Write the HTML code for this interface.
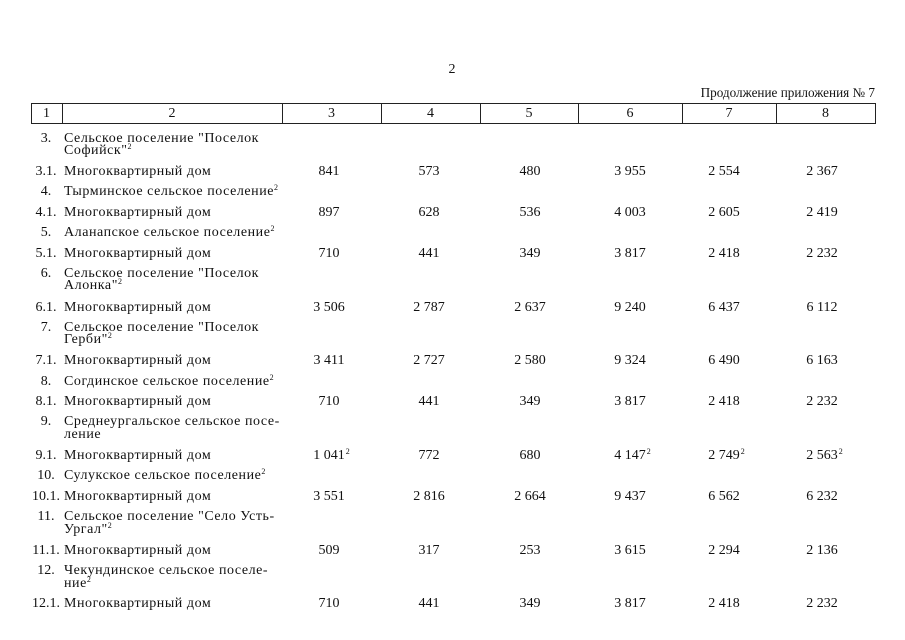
<!DOCTYPE html>
<html><head><meta charset="utf-8">
<style>
html,body{margin:0;padding:0;background:#fff;}
body{width:905px;height:640px;position:relative;overflow:hidden;font-family:"Liberation Serif","Noto Serif CJK SC",serif;font-size:14px;color:#111;}
.t{position:absolute;white-space:nowrap;line-height:16px;height:16px;}
.w{letter-spacing:0.55px;}
.c{text-align:center;}
.l{position:absolute;white-space:nowrap;line-height:16px;width:40px;text-align:center;}
.n{position:absolute;white-space:nowrap;line-height:16px;width:90px;text-align:center;}
.n span{position:relative;}
sup{font-size:8px;line-height:0;vertical-align:0;position:relative;top:-5px;letter-spacing:0;}
.n sup{position:absolute;top:0px;left:100%;line-height:8px;margin-left:1px;}
.hl{position:absolute;background:#222;}
</style></head><body>

<div class="t" style="left:440px;top:62px;width:24px;text-align:center;">2</div>
<div class="t" style="left:575px;top:85px;width:300px;text-align:right;font-size:13.2px;">Продолжение приложения № 7</div>

<!-- header box -->
<div class="hl" style="left:31px;top:103px;width:845px;height:1px;"></div>
<div class="hl" style="left:31px;top:123px;width:845px;height:1px;"></div>
<div class="hl" style="left:31px;top:103px;width:1px;height:21px;"></div>
<div class="hl" style="left:62px;top:103px;width:1px;height:21px;"></div>
<div class="hl" style="left:282px;top:103px;width:1px;height:21px;"></div>
<div class="hl" style="left:381px;top:103px;width:1px;height:21px;"></div>
<div class="hl" style="left:480px;top:103px;width:1px;height:21px;"></div>
<div class="hl" style="left:578px;top:103px;width:1px;height:21px;"></div>
<div class="hl" style="left:682px;top:103px;width:1px;height:21px;"></div>
<div class="hl" style="left:776px;top:103px;width:1px;height:21px;"></div>
<div class="hl" style="left:875px;top:103px;width:1px;height:21px;"></div>

<div class="t c" style="left:31px;top:106px;width:31px;">1</div>
<div class="t c" style="left:62px;top:106px;width:220px;">2</div>
<div class="t c" style="left:282px;top:106px;width:99px;">3</div>
<div class="t c" style="left:381px;top:106px;width:99px;">4</div>
<div class="t c" style="left:480px;top:106px;width:98px;">5</div>
<div class="t c" style="left:578px;top:106px;width:104px;">6</div>
<div class="t c" style="left:682px;top:106px;width:94px;">7</div>
<div class="t c" style="left:776px;top:106px;width:99px;">8</div>

<!-- labels -->
<div class="l" style="left:26px;top:131px;">3.</div>
<div class="t w" style="left:64px;top:131px;">Сельское поселение "Поселок</div>
<div class="t w" style="left:64px;top:143px;">Софийск"<sup>2</sup></div>

<div class="l" style="left:26px;top:164px;">3.1.</div>
<div class="t w" style="left:64px;top:164px;">Многоквартирный дом</div>

<div class="l" style="left:26px;top:184px;">4.</div>
<div class="t w" style="left:64px;top:184px;">Тырминское сельское поселение<sup>2</sup></div>

<div class="l" style="left:26px;top:205px;">4.1.</div>
<div class="t w" style="left:64px;top:205px;">Многоквартирный дом</div>

<div class="l" style="left:26px;top:225px;">5.</div>
<div class="t w" style="left:64px;top:225px;">Аланапское сельское поселение<sup>2</sup></div>

<div class="l" style="left:26px;top:246px;">5.1.</div>
<div class="t w" style="left:64px;top:246px;">Многоквартирный дом</div>

<div class="l" style="left:26px;top:266px;">6.</div>
<div class="t w" style="left:64px;top:266px;">Сельское поселение "Поселок</div>
<div class="t w" style="left:64px;top:278px;">Алонка"<sup>2</sup></div>

<div class="l" style="left:26px;top:300px;">6.1.</div>
<div class="t w" style="left:64px;top:300px;">Многоквартирный дом</div>

<div class="l" style="left:26px;top:320px;">7.</div>
<div class="t w" style="left:64px;top:320px;">Сельское поселение "Поселок</div>
<div class="t w" style="left:64px;top:332px;">Герби"<sup>2</sup></div>

<div class="l" style="left:26px;top:353px;">7.1.</div>
<div class="t w" style="left:64px;top:353px;">Многоквартирный дом</div>

<div class="l" style="left:26px;top:374px;">8.</div>
<div class="t w" style="left:64px;top:374px;">Согдинское сельское поселение<sup>2</sup></div>

<div class="l" style="left:26px;top:394px;">8.1.</div>
<div class="t w" style="left:64px;top:394px;">Многоквартирный дом</div>

<div class="l" style="left:26px;top:414px;">9.</div>
<div class="t w" style="left:64px;top:414px;">Среднеургальское сельское посе-</div>
<div class="t w" style="left:64px;top:427px;">ление</div>

<div class="l" style="left:26px;top:448px;">9.1.</div>
<div class="t w" style="left:64px;top:448px;">Многоквартирный дом</div>

<div class="l" style="left:26px;top:468px;">10.</div>
<div class="t w" style="left:64px;top:468px;">Сулукское сельское поселение<sup>2</sup></div>

<div class="l" style="left:26px;top:489px;">10.1.</div>
<div class="t w" style="left:64px;top:489px;">Многоквартирный дом</div>

<div class="l" style="left:26px;top:509px;">11.</div>
<div class="t w" style="left:64px;top:509px;">Сельское поселение "Село Усть-</div>
<div class="t w" style="left:64px;top:522px;">Ургал"<sup>2</sup></div>

<div class="l" style="left:26px;top:543px;">11.1.</div>
<div class="t w" style="left:64px;top:543px;">Многоквартирный дом</div>

<div class="l" style="left:26px;top:563px;">12.</div>
<div class="t w" style="left:64px;top:563px;">Чекундинское сельское поселе-</div>
<div class="t w" style="left:64px;top:576px;">ние<sup>2</sup></div>

<div class="l" style="left:26px;top:596px;">12.1.</div>
<div class="t w" style="left:64px;top:596px;">Многоквартирный дом</div>

<!-- numbers -->
<div class="n" style="left:284px;top:164px;"><span>841</span></div>
<div class="n" style="left:384px;top:164px;"><span>573</span></div>
<div class="n" style="left:485px;top:164px;"><span>480</span></div>
<div class="n" style="left:585px;top:164px;"><span>3 955</span></div>
<div class="n" style="left:679px;top:164px;"><span>2 554</span></div>
<div class="n" style="left:777px;top:164px;"><span>2 367</span></div>

<div class="n" style="left:284px;top:205px;"><span>897</span></div>
<div class="n" style="left:384px;top:205px;"><span>628</span></div>
<div class="n" style="left:485px;top:205px;"><span>536</span></div>
<div class="n" style="left:585px;top:205px;"><span>4 003</span></div>
<div class="n" style="left:679px;top:205px;"><span>2 605</span></div>
<div class="n" style="left:777px;top:205px;"><span>2 419</span></div>

<div class="n" style="left:284px;top:246px;"><span>710</span></div>
<div class="n" style="left:384px;top:246px;"><span>441</span></div>
<div class="n" style="left:485px;top:246px;"><span>349</span></div>
<div class="n" style="left:585px;top:246px;"><span>3 817</span></div>
<div class="n" style="left:679px;top:246px;"><span>2 418</span></div>
<div class="n" style="left:777px;top:246px;"><span>2 232</span></div>

<div class="n" style="left:284px;top:300px;"><span>3 506</span></div>
<div class="n" style="left:384px;top:300px;"><span>2 787</span></div>
<div class="n" style="left:485px;top:300px;"><span>2 637</span></div>
<div class="n" style="left:585px;top:300px;"><span>9 240</span></div>
<div class="n" style="left:679px;top:300px;"><span>6 437</span></div>
<div class="n" style="left:777px;top:300px;"><span>6 112</span></div>

<div class="n" style="left:284px;top:353px;"><span>3 411</span></div>
<div class="n" style="left:384px;top:353px;"><span>2 727</span></div>
<div class="n" style="left:485px;top:353px;"><span>2 580</span></div>
<div class="n" style="left:585px;top:353px;"><span>9 324</span></div>
<div class="n" style="left:679px;top:353px;"><span>6 490</span></div>
<div class="n" style="left:777px;top:353px;"><span>6 163</span></div>

<div class="n" style="left:284px;top:394px;"><span>710</span></div>
<div class="n" style="left:384px;top:394px;"><span>441</span></div>
<div class="n" style="left:485px;top:394px;"><span>349</span></div>
<div class="n" style="left:585px;top:394px;"><span>3 817</span></div>
<div class="n" style="left:679px;top:394px;"><span>2 418</span></div>
<div class="n" style="left:777px;top:394px;"><span>2 232</span></div>

<div class="n" style="left:284px;top:448px;"><span>1 041<sup>2</sup></span></div>
<div class="n" style="left:384px;top:448px;"><span>772</span></div>
<div class="n" style="left:485px;top:448px;"><span>680</span></div>
<div class="n" style="left:585px;top:448px;"><span>4 147<sup>2</sup></span></div>
<div class="n" style="left:679px;top:448px;"><span>2 749<sup>2</sup></span></div>
<div class="n" style="left:777px;top:448px;"><span>2 563<sup>2</sup></span></div>

<div class="n" style="left:284px;top:489px;"><span>3 551</span></div>
<div class="n" style="left:384px;top:489px;"><span>2 816</span></div>
<div class="n" style="left:485px;top:489px;"><span>2 664</span></div>
<div class="n" style="left:585px;top:489px;"><span>9 437</span></div>
<div class="n" style="left:679px;top:489px;"><span>6 562</span></div>
<div class="n" style="left:777px;top:489px;"><span>6 232</span></div>

<div class="n" style="left:284px;top:543px;"><span>509</span></div>
<div class="n" style="left:384px;top:543px;"><span>317</span></div>
<div class="n" style="left:485px;top:543px;"><span>253</span></div>
<div class="n" style="left:585px;top:543px;"><span>3 615</span></div>
<div class="n" style="left:679px;top:543px;"><span>2 294</span></div>
<div class="n" style="left:777px;top:543px;"><span>2 136</span></div>

<div class="n" style="left:284px;top:596px;"><span>710</span></div>
<div class="n" style="left:384px;top:596px;"><span>441</span></div>
<div class="n" style="left:485px;top:596px;"><span>349</span></div>
<div class="n" style="left:585px;top:596px;"><span>3 817</span></div>
<div class="n" style="left:679px;top:596px;"><span>2 418</span></div>
<div class="n" style="left:777px;top:596px;"><span>2 232</span></div>

</body></html>
